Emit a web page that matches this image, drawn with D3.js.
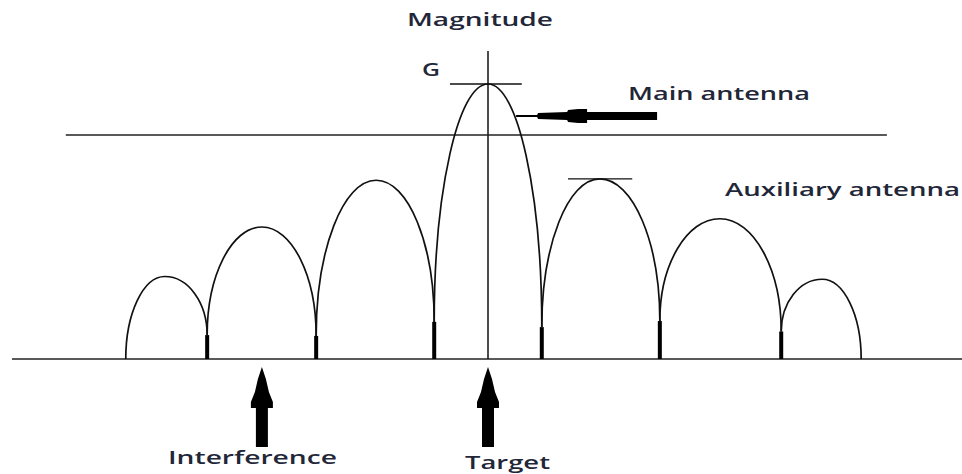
<!DOCTYPE html>
<html>
<head>
<meta charset="utf-8">
<script src="https://cdn.jsdelivr.net/npm/d3@7"></script>
<style>
  body { margin: 0; background: #fff; }
  text { font-family: "Open Sans", sans-serif; fill: #1f2738; font-weight: 600; }
</style>
</head>
<body>
<script>
// Set dimensions for the diagram
const width = 962;
const height = 474;

// Lobe pattern, angle in arbitrary units (target at 0), magnitude relative to G
const nullPos   = [-7.61, -5.90, -3.61, -1.13, 1.13, 3.61, 6.16, 7.84];
const nullMag   = [0, 0.087, 0.084, 0.135, 0.116, 0.138, 0.10, 0];
const peakPos   = [-6.79, -4.75, -2.35, 0, 2.35, 4.87, 7.02];
const peakMag   = [0.30, 0.48, 0.65, 1.0, 0.655, 0.51, 0.29];

// Reference lines
const thresholdMag = 0.815;            // auxiliary antenna level
const thresholdExtent = [-8.87, 8.38];
const gTickExtent = [-0.8, 0.71];      // marks G on main peak
const auxTickExtent = [1.68, 3.03];    // marks first side lobe peak
const axisTop = 1.12;

// Labels
const labels = {
  magnitude: "Magnitude",
  g: "G",
  main: "Main antenna",
  aux: "Auxiliary antenna",
  interference: "Interference",
  target: "Target"
};

// Set up the x and y scales
const x = d3.scaleLinear().domain([-10, 10]).range([12, 964]);
const y = d3.scaleLinear().domain([0, 1]).range([359, 84]);

const svg = d3.select("body")
  .append("svg")
    .attr("width", width)
    .attr("height", height);

svg.append("rect")
  .attr("width", width)
  .attr("height", height)
  .attr("fill", "#fff");

// baseline
svg.append("line")
  .attr("x1", x(-10)).attr("x2", x(10))
  .attr("y1", y(0)).attr("y2", y(0))
  .attr("stroke", "#222").attr("stroke-width", 1.5);

// vertical magnitude axis
svg.append("line")
  .attr("x1", x(0)).attr("x2", x(0))
  .attr("y1", y(0)).attr("y2", y(axisTop))
  .attr("stroke", "#111").attr("stroke-width", 1.5);

// auxiliary antenna level
svg.append("line")
  .attr("x1", x(thresholdExtent[0])).attr("x2", x(thresholdExtent[1]))
  .attr("y1", y(thresholdMag)).attr("y2", y(thresholdMag))
  .attr("stroke", "#222").attr("stroke-width", 1.5);

// small ticks at peaks
svg.append("line")
  .attr("x1", x(gTickExtent[0])).attr("x2", x(gTickExtent[1]))
  .attr("y1", y(peakMag[3])).attr("y2", y(peakMag[3]))
  .attr("stroke", "#111").attr("stroke-width", 1.3);

svg.append("line")
  .attr("x1", x(auxTickExtent[0])).attr("x2", x(auxTickExtent[1]))
  .attr("y1", y(peakMag[4])).attr("y2", y(peakMag[4]))
  .attr("stroke", "#111").attr("stroke-width", 1.3);

// lobes: two quarter-ellipses from each null up to the peak
const k = 0.5523;
const lobes = peakPos.map((p, i) => ({
  x0: nullPos[i], m0: nullMag[i],
  xp: p, mp: peakMag[i],
  x1: nullPos[i + 1], m1: nullMag[i + 1]
}));

function lobePath(d) {
  const ax = x(d.x0), ay = y(d.m0);
  const px = x(d.xp), py = y(d.mp);
  const bx = x(d.x1), by = y(d.m1);
  const path = d3.path();
  path.moveTo(ax, ay);
  path.bezierCurveTo(ax, ay - k * (ay - py), px - k * (px - ax), py, px, py);
  path.bezierCurveTo(px + k * (bx - px), py, bx, by - k * (by - py), bx, by);
  return path.toString();
}

svg.selectAll(".lobe")
  .data(lobes)
  .join("path")
    .attr("class", "lobe")
    .attr("d", lobePath)
    .attr("fill", "none")
    .attr("stroke", "#111")
    .attr("stroke-width", 1.7);

// thick bars at the nulls between lobes
svg.selectAll(".null-bar")
  .data(nullPos.slice(1, -1).map((p, i) => ({ pos: p, mag: nullMag[i + 1] })))
  .join("rect")
    .attr("class", "null-bar")
    .attr("x", d => x(d.pos) - 2)
    .attr("y", d => y(d.mag))
    .attr("width", 4)
    .attr("height", d => y(0) - y(d.mag))
    .attr("fill", "#000");

// upward block arrows below the baseline
function upArrow(cx) {
  const t = y(0) + 8;
  const pts = [
    [0, 0], [4, 12], [7, 25], [11, 35], [11, 41], [6, 41], [6, 80],
    [-6, 80], [-6, 41], [-11, 41], [-11, 35], [-7, 25], [-4, 12]
  ];
  return pts.map(p => [cx + p[0], t + p[1]].join(",")).join(" ");
}

svg.append("polygon")
  .attr("points", upArrow(x(peakPos[1])))
  .attr("fill", "#000");

svg.append("polygon")
  .attr("points", upArrow(x(0)))
  .attr("fill", "#000");

// main antenna arrow pointing left at the main lobe
const tipX = x(0.59), tipY = y(0.884);
const hPts = [
  [0, -1], [21, -1], [22, -3], [51, -4], [52, -6], [62, -7], [71, -7], [71, -4],
  [141, -4], [141, 4], [71, 4], [71, 7], [62, 7], [52, 6], [51, 4], [22, 3], [21, 1], [0, 1]
];
svg.append("polygon")
  .attr("points", hPts.map(p => [tipX + p[0], tipY + p[1]].join(",")).join(" "))
  .attr("fill", "#000");

// text labels
function label(txt, lx, ly, len) {
  svg.append("text")
    .attr("x", lx)
    .attr("y", ly)
    .attr("textLength", len)
    .attr("lengthAdjust", "spacingAndGlyphs")
    .style("font-size", "18px")
    .text(txt);
}

label(labels.magnitude, 407, 26, 146);
label(labels.g, 422, 76, 18);
label(labels.main, 628, 100, 182);
label(labels.aux, 725, 196, 235);
label(labels.interference, 168, 464, 169);
label(labels.target, 465, 469, 85);
</script>
</body>
</html>
